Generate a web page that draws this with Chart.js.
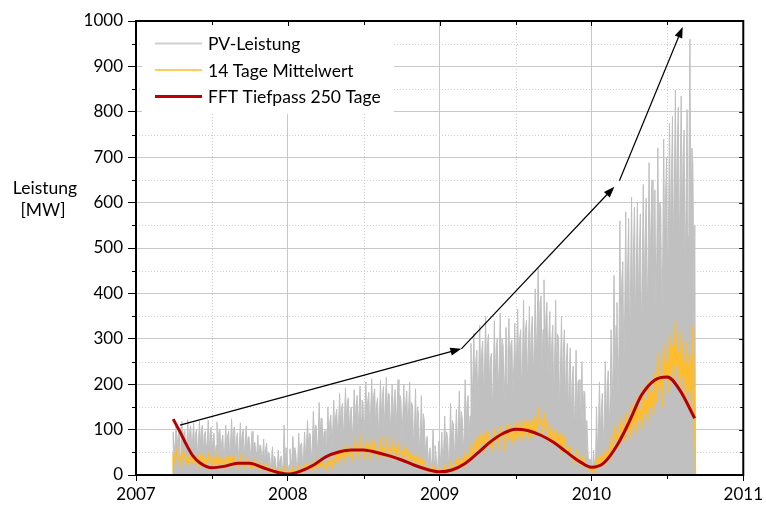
<!DOCTYPE html>
<html>
<head>
<meta charset="utf-8">
<script src="https://cdn.jsdelivr.net/npm/chart.js@4.4.1/dist/chart.umd.min.js"></script>
<style>
  html, body { margin: 0; padding: 0; background: #fff; }
  #wrap { width: 766px; height: 505px; }
</style>
</head>
<body>
<div id="wrap"><canvas id="c" width="766" height="505"></canvas></div>
<script>
// ---------- data ----------
const pvStart = 2007.245;      // first day of the record (decimal year)
const pvEnd = 2010.685;        // last day of the record
const weekStep = 1 / 52;       // one group of values per week

// weekly highest daily peak (PV-Leistung, MW)
const pvHigh = [
  95,112,104,118,98,122,108,115,100,119,110,96,121,
  105,92,117,101,88,110,97,124,106,93,115,99,108,
  84,96,72,88,65,79,70,
  48,62,35,55,42,110,38,
  58,85,47,92,70,
  95,120,88,140,108,160,125,98,150,132,165,
  145,180,158,192,170,150,188,175,196,160,
  205,182,212,190,170,208,195,215,178,200,188,210,165,198,185,
  205,150,190,135,175,120,
  85,60,100,45,75,
  95,130,80,158,110,145,185,125,
  210,175,290,312,
  275,330,295,350,310,268,340,300,357,285,325,345,298,335,
  365,320,385,340,372,350,
  410,455,395,430,380,
  360,330,385,300,350,320,290,
  280,240,275,210,250,180,
  60,35,55,
  150,205,180,250,230,
  320,440,380,560,470,
  580,565,612,590,600,575,
  640,610,688,650,
  628,720,590,740,700,775,
  790,848,810,835,
  760,805,960,685
];
// weekly lowest daily peak (PV-Leistung, MW)
const pvLow = [
  48,62,42,68,52,45,60,55,38,65,50,58,44,
  52,38,60,45,32,55,42,62,48,35,58,40,50,
  36,28,42,24,34,20,30,
  12,22,8,18,10,25,6,
  15,30,10,36,20,
  42,60,35,72,50,82,55,38,75,62,88,
  85,108,80,120,98,75,115,102,125,88,
  120,98,132,110,88,125,105,138,92,115,108,130,80,112,98,
  98,62,85,50,72,38,
  18,10,30,6,15,
  25,50,20,68,38,62,88,50,
  100,78,140,165,
  150,200,165,225,190,140,212,178,238,160,200,220,170,208,
  225,180,250,200,238,212,
  250,288,225,262,212,
  200,165,218,140,188,150,125,
  112,88,118,70,100,52,
  15,8,18,
  50,88,70,112,100,
  140,212,165,290,240,
  315,280,365,330,375,300,
  400,340,440,375,
  365,475,325,500,425,525,
  500,575,475,560,
  440,525,490,380
];
// weekly in-between daily peak (PV-Leistung, MW)
const pvMid = [
  70,85,78,95,72,100,80,92,75,98,88,70,96,
  80,65,95,75,60,88,70,100,82,66,92,72,84,
  60,70,52,66,45,58,50,
  30,42,20,36,25,60,22,
  35,60,30,68,45,
  70,92,60,110,80,125,95,70,118,100,130,
  115,148,125,160,138,118,155,142,165,128,
  165,145,175,155,135,170,158,180,142,165,150,176,130,160,148,
  160,110,150,95,135,80,
  50,35,65,25,45,
  60,95,50,120,80,110,140,95,
  160,130,220,250,
  225,270,240,290,255,215,280,245,300,230,268,288,240,275,
  300,260,320,280,310,290,
  330,380,320,350,300,
  290,260,310,240,280,250,220,
  210,170,205,150,185,120,
  35,20,32,
  100,150,120,190,170,
  240,330,280,430,360,
  460,430,500,470,490,450,
  520,480,560,520,
  500,600,470,620,560,650,
  640,720,660,700,
  600,680,720,550
];
// 14-day mean, weekly upper / lower values (MW)
const meanHigh = [
  48,55,40,52,45,38,50,44,35,47,42,39,45,
  40,34,45,38,30,42,36,44,38,32,40,30,35,
  30,25,32,22,26,18,22,
  12,15,8,12,10,18,8,
  10,16,8,18,14,
  20,26,18,30,24,35,28,22,33,30,40,
  42,55,48,65,58,50,70,62,80,60,
  72,62,78,66,58,74,64,76,60,70,62,68,52,60,55,
  52,40,46,34,40,28,
  18,12,20,10,14,
  12,20,14,26,20,30,38,32,
  48,42,62,70,
  75,92,80,98,88,80,102,90,110,85,100,115,92,105,
  120,102,125,110,124,112,
  130,148,122,138,115,
  108,92,102,84,94,78,66,
  58,45,52,38,44,32,
  20,14,18,
  30,45,38,55,50,
  75,110,90,125,105,
  140,115,160,130,175,145,
  195,165,210,185,
  225,270,210,290,250,310,
  285,340,270,315,
  240,295,265,330
];
const meanLow = [
  30,35,25,33,28,22,30,27,20,30,26,22,28,
  25,20,28,22,18,26,22,28,22,18,24,18,20,
  18,14,20,12,15,10,12,
  5,7,3,6,4,8,3,
  4,8,3,9,6,
  12,15,10,18,14,22,18,13,20,18,26,
  30,38,33,45,40,35,48,44,52,42,
  50,42,54,46,40,52,45,52,42,48,43,46,36,40,36,
  34,26,30,22,25,16,
  8,5,10,4,6,
  5,10,6,14,10,16,22,18,
  32,28,42,50,
  56,66,58,74,64,58,76,66,82,62,74,84,68,78,
  86,74,92,80,90,82,
  95,110,88,100,82,
  78,64,72,58,66,54,46,
  40,30,36,25,30,20,
  10,6,9,
  18,30,24,36,32,
  50,70,60,85,72,
  95,80,110,90,120,100,
  135,115,150,130,
  160,190,150,210,180,220,
  200,240,180,225,
  155,185,135,175
];
// FFT low-pass (250 days)
const fftYears = [2007.245,2007.29,2007.33,2007.375,2007.42,2007.5,2007.58,2007.67,2007.75,2007.83,2007.92,
  2008.0,2008.08,2008.17,2008.25,2008.33,2008.42,2008.5,2008.58,2008.67,2008.75,2008.83,2008.92,
  2009.0,2009.08,2009.17,2009.25,2009.33,2009.42,2009.5,2009.58,2009.67,2009.75,2009.83,2009.92,
  2010.0,2010.08,2010.17,2010.25,2010.33,2010.42,2010.5,2010.58,2010.68];
const fftValues = [123,95,68,42,27,16,19,26,26,17,7,
  2,8,22,40,50,55,55,50,42,33,22,12,
  7,11,26,48,72,92,101,98,87,72,52,30,
  17,26,66,118,176,210,216,188,125];

// growth arrows (decimal year, MW)
const arrowFromX = [2007.29, 2009.143, 2010.184];
const arrowFromY = [110, 278, 648];
const arrowToX   = [2009.143, 2010.151, 2010.601];
const arrowToY   = [278, 635, 987];

// axis ticks / labels
const xTickYears = [2007, 2008, 2009, 2010, 2011];
const xMinorYears = [2007.5, 2008.5, 2009.5, 2010.5];
const yMinorValues = [50,150,250,350,450,550,650,750,850,950];
const seriesNames = ['PV-Leistung', '14 Tage Mittelwert', 'FFT Tiefpass 250 Tage'];
const yTitle = ['Leistung', '[MW]'];

// ---------- build point tables ----------
function weekSeries(vals) {   // vals: arrays placed at 0, 1/n, 2/n ... of each week
  const n = vals.length;
  const pts = [{x: pvStart, y: 0}];
  for (let i = 0; i < vals[0].length; i++) {
    for (let k = 0; k < n; k++) {
      pts.push({x: pvStart + (i + k / n) * weekStep, y: vals[k][i]});
    }
  }
  const lastX = pts[pts.length - 1].x;
  pts.push({x: Math.max(pvEnd, lastX), y: 0});
  return pts;
}
const grayPts = weekSeries([pvHigh, pvLow, pvMid]);
const meanPts = weekSeries([meanHigh, meanLow]);
const fftPts = fftYears.map((t, i) => ({x: t, y: fftValues[i]}));

const GRAY = '#c0c0c0', YELLOW = '#ffbd2e', RED = '#b40000';
const FONT = 'Lato, "Open Sans", sans-serif';

const decor = {
  id: 'decor',
  beforeDatasetsDraw(chart) {
    const {ctx, chartArea: a, scales: {x, y}} = chart;
    ctx.save();
    ctx.strokeStyle = '#cfcfcf';
    ctx.lineWidth = 1;
    ctx.setLineDash([1, 2]);
    yMinorValues.forEach(v => {
      const py = Math.round(y.getPixelForValue(v)) + 0.5;
      ctx.beginPath(); ctx.moveTo(a.left, py); ctx.lineTo(a.right, py); ctx.stroke();
    });
    xMinorYears.forEach(v => {
      const px = Math.round(x.getPixelForValue(v)) + 0.5;
      ctx.beginPath(); ctx.moveTo(px, a.top); ctx.lineTo(px, a.bottom); ctx.stroke();
    });
    ctx.setLineDash([]);
    // legend background
    ctx.fillStyle = '#fff';
    ctx.fillRect(a.left + 6, a.top + 1, 252, 92);
    ctx.restore();
  },
  afterDatasetsDraw(chart) {
    const {ctx, chartArea: a, scales: {x, y}} = chart;
    ctx.save();
    // frame
    ctx.strokeStyle = '#000';
    ctx.lineWidth = 2;
    ctx.strokeRect(a.left, a.top, a.right - a.left, a.bottom - a.top);
    // minor ticks and inner ticks
    ctx.lineWidth = 1;
    ctx.beginPath();
    yMinorValues.forEach(v => {
      const py = Math.round(y.getPixelForValue(v)) + 0.5;
      ctx.moveTo(a.left - 4, py); ctx.lineTo(a.left, py);
      ctx.moveTo(a.right, py); ctx.lineTo(a.right - 3, py);
    });
    y.ticks.forEach(t => {
      const py = Math.round(y.getPixelForValue(t.value)) + 0.5;
      ctx.moveTo(a.right, py); ctx.lineTo(a.right - 4, py);
    });
    xMinorYears.forEach(v => {
      const px = Math.round(x.getPixelForValue(v)) + 0.5;
      ctx.moveTo(px, a.bottom); ctx.lineTo(px, a.bottom + 4);
      ctx.moveTo(px, a.top); ctx.lineTo(px, a.top + 4);
    });
    xTickYears.forEach(v => {
      const px = Math.round(x.getPixelForValue(v)) + 0.5;
      ctx.moveTo(px, a.top); ctx.lineTo(px, a.top + 5);
    });
    ctx.stroke();

    // arrows
    ctx.strokeStyle = '#000';
    ctx.fillStyle = '#000';
    ctx.lineWidth = 1.2;
    for (let i = 0; i < arrowFromX.length; i++) {
      const x1 = x.getPixelForValue(arrowFromX[i]), y1 = y.getPixelForValue(arrowFromY[i]);
      const x2 = x.getPixelForValue(arrowToX[i]), y2 = y.getPixelForValue(arrowToY[i]);
      const ang = Math.atan2(y2 - y1, x2 - x1);
      const L = 11, W = 4;
      const c = Math.cos(ang), s = Math.sin(ang);
      const bx = x2 - L * c, by = y2 - L * s;
      ctx.beginPath(); ctx.moveTo(x1, y1); ctx.lineTo(bx + 2 * c, by + 2 * s); ctx.stroke();
      ctx.beginPath();
      ctx.moveTo(x2, y2);
      ctx.lineTo(bx + W * s, by - W * c);
      ctx.lineTo(bx - W * s, by + W * c);
      ctx.closePath(); ctx.fill();
    }

    // legend
    const colors = ['#d0d0d0', '#ffcc55', '#c00000'];
    const widths = [2, 2, 3];
    const rows = [a.top + 22.5, a.top + 49, a.top + 75.5];
    ctx.font = '17.5px ' + FONT;
    ctx.textBaseline = 'middle';
    ctx.textAlign = 'left';
    for (let i = 0; i < 3; i++) {
      ctx.strokeStyle = colors[i];
      ctx.lineWidth = widths[i];
      ctx.beginPath(); ctx.moveTo(a.left + 19, rows[i]); ctx.lineTo(a.left + 66, rows[i]); ctx.stroke();
      ctx.fillStyle = '#000';
      ctx.fillText(seriesNames[i], a.left + 72, rows[i] + 1);
    }

    // y title
    ctx.textAlign = 'center';
    ctx.fillText(yTitle[0], 45, 188);
    ctx.fillText(yTitle[1], 43, 210);
    ctx.restore();
  }
};

Chart.defaults.font.family = FONT;
Chart.defaults.font.size = 17;
Chart.defaults.color = '#000';

new Chart(document.getElementById('c'), {
  type: 'line',
  data: {
    datasets: [
      { label: seriesNames[2], data: fftPts, borderColor: RED, borderWidth: 3,
        pointRadius: 0, cubicInterpolationMode: 'monotone', fill: false, order: 0 },
      { label: seriesNames[1], data: meanPts, borderColor: YELLOW, borderWidth: 1.5,
        pointRadius: 0, tension: 0, fill: false, order: 1 },
      { label: seriesNames[0], data: grayPts, borderColor: GRAY, backgroundColor: GRAY,
        borderWidth: 1, pointRadius: 0, tension: 0, fill: 'origin', order: 2 }
    ]
  },
  options: {
    responsive: false,
    animation: false,
    events: [],
    layout: { padding: { left: 0, top: 21, right: 21, bottom: 0 } },
    plugins: { legend: { display: false }, tooltip: { enabled: false } },
    scales: {
      x: {
        type: 'linear', min: 2007, max: 2011,
        afterFit(s) { s.height = 30; },
        afterBuildTicks(s) { s.ticks = xTickYears.map(v => ({value: v})); },
        ticks: { stepSize: 1, padding: 3, maxRotation: 0, color: '#000',
                 callback: v => String(v) },
        grid: { color: '#c8c8c8', lineWidth: 1, tickColor: '#000', tickLength: 6 },
        border: { color: '#000', width: 2 }
      },
      y: {
        type: 'linear', min: 0, max: 1000,
        afterFit(s) { s.width = 136; },
        ticks: { stepSize: 100, padding: 5, color: '#000', callback: v => String(v) },
        grid: { color: '#c8c8c8', lineWidth: 1, tickColor: '#000', tickLength: 8 },
        border: { color: '#000', width: 2 }
      }
    }
  },
  plugins: [decor]
});
</script>
</body>
</html>
